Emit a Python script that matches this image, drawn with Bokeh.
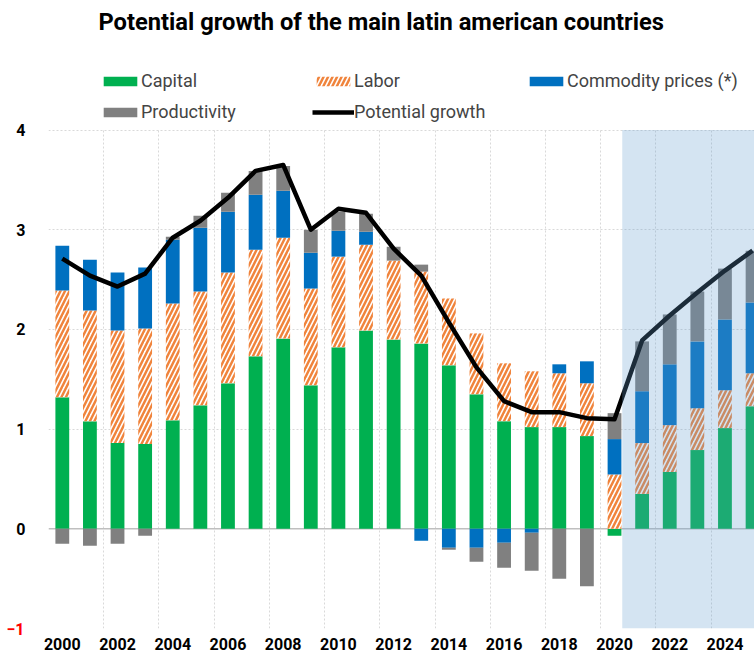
import numpy as np
from bokeh.plotting import figure
from bokeh.models import (ColumnDataSource, FixedTicker, Legend, LegendItem,
                          BoxAnnotation, Span, Range1d, LinearAxis)
from bokeh.embed import file_html
from bokeh.resources import INLINE

# ---------------- data ----------------
years = list(range(2000, 2026))
capital = [1.32, 1.08, 0.86, 0.85, 1.09, 1.24, 1.46, 1.73, 1.91, 1.44, 1.82, 1.99, 1.90,
           1.86, 1.64, 1.35, 1.08, 1.02, 1.02, 0.93, -0.07, 0.35, 0.57, 0.79, 1.01, 1.23]
labor = [1.07, 1.11, 1.13, 1.16, 1.17, 1.14, 1.11, 1.07, 1.01, 0.97, 0.91, 0.86, 0.79,
         0.72, 0.67, 0.61, 0.58, 0.56, 0.54, 0.53, 0.545, 0.51, 0.47, 0.42, 0.38, 0.33]
commodity = [0.45, 0.51, 0.58, 0.61, 0.64, 0.64, 0.61, 0.55, 0.47, 0.36, 0.26, 0.13, 0.0,
             -0.12, -0.19, -0.19, -0.14, -0.04, 0.09, 0.22, 0.355, 0.52, 0.61, 0.67, 0.71, 0.71]
productivity = [-0.15, -0.17, -0.15, -0.07, 0.03, 0.12, 0.19, 0.24, 0.25, 0.23, 0.19, 0.18, 0.14,
                0.07, -0.02, -0.14, -0.25, -0.38, -0.50, -0.575, 0.26, 0.50, 0.50, 0.50, 0.51, 0.52]
potential = [2.71, 2.54, 2.43, 2.56, 2.92, 3.09, 3.32, 3.59, 3.65, 3.00, 3.21, 3.17, 2.81,
             2.54, 2.07, 1.62, 1.28, 1.17, 1.17, 1.11, 1.10, 1.89, 2.14, 2.37, 2.59, 2.79]
series_names = ["Capital", "Labor", "Commodity prices (*)", "Productivity"]
line_name = "Potential growth"
x_ticks = [2000, 2002, 2004, 2006, 2008, 2010, 2012, 2014, 2016, 2018, 2020, 2022, 2024]
y_ticks = [0, 1, 2, 3, 4]
y_ticks_negative = [-1]
forecast_start = 2020.28
title_text = "Potential growth of the main latin american countries"

# ---------------- figure ----------------
FONT = "Roboto"
TOP_BORDER = 37
BOTTOM_BORDER = 31
FRAME_H = 659 - TOP_BORDER - BOTTOM_BORDER
Y0, Y1 = -1, 4
Y_TOP = Y0 + (Y1 - Y0) * FRAME_H / 501.0   # room above the plot for the legend
X0, X1 = 1999.5, 2025.07
p = figure(width=754, height=659, output_backend="svg", toolbar_location=None,
           x_range=Range1d(X0, X1), y_range=Range1d(Y0, Y_TOP),
           min_border_left=48, min_border_right=0, min_border_bottom=BOTTOM_BORDER,
           min_border_top=TOP_BORDER)
p.outline_line_color = None
p.background_fill_color = "white"

# stacked bars (positives up from 0, negatives down from 0)
pos_base = np.zeros(len(years))
neg_base = np.zeros(len(years))
styles = [
    dict(fill_color="#00B050"),
    dict(fill_color="white", hatch_pattern="/", hatch_color="#F0843C", hatch_weight=2.5, hatch_scale=9),
    dict(fill_color="#0070C0"),
    dict(fill_color="#808080"),
]
renderers = []
for vals, st in zip([capital, labor, commodity, productivity], styles):
    a = np.array(vals, dtype=float)
    bottom = np.where(a >= 0, pos_base, neg_base + a)
    top = np.where(a >= 0, pos_base + a, neg_base)
    pos_base = pos_base + np.where(a > 0, a, 0)
    neg_base = neg_base + np.where(a < 0, a, 0)
    src = ColumnDataSource(dict(x=years, top=top, bottom=bottom))
    r = p.vbar(x="x", top="top", bottom="bottom", width=0.5, source=src,
               line_color=None, **st)
    renderers.append(r)

line_r = p.line(years, potential, line_color="black", line_width=4.5, line_join="round")

# zero line
p.add_layout(Span(location=0, dimension="width", line_color="#bfbfbf", line_width=1.5, level="underlay"))

# forecast shading (drawn over everything)
p.add_layout(BoxAnnotation(left=forecast_start, top=Y1, bottom=Y0, fill_color="#639dd0",
                           fill_alpha=0.28, line_color=None, level="overlay"))

# axes
def style_axis(ax, color="black"):
    ax.axis_line_color = None
    ax.major_tick_line_color = None
    ax.minor_tick_line_color = None
    ax.major_tick_out = 0
    ax.major_tick_in = 0
    ax.minor_tick_out = 0
    ax.minor_tick_in = 0
    ax.major_label_text_font = FONT
    ax.major_label_text_font_style = "bold"
    ax.major_label_text_font_size = "16px"
    ax.major_label_text_color = color

p.xaxis.ticker = FixedTicker(ticks=x_ticks)
p.yaxis.ticker = FixedTicker(ticks=y_ticks)
style_axis(p.xaxis[0])
style_axis(p.yaxis[0])
p.xaxis.major_label_standoff = 9
p.yaxis.major_label_standoff = 23

# red label for the negative tick, on a second left axis
neg_axis = LinearAxis(ticker=FixedTicker(ticks=y_ticks_negative), major_label_standoff=-11)
style_axis(neg_axis, color="red")
p.add_layout(neg_axis, "left")

# grids
p.xgrid.ticker = FixedTicker(ticks=[y - 0.5 for y in range(2000, 2025, 2)])
p.xgrid.cross_bounds = (Y0, Y1)
p.ygrid.ticker = FixedTicker(ticks=[-1, 1, 2, 3, 4])
for g in (p.xgrid[0], p.ygrid[0]):
    g.grid_line_color = "#d9d9d9"
    g.grid_line_dash = "2 2"
    g.grid_line_width = 1

# legend
items = [LegendItem(label=n, renderers=[r]) for n, r in zip(series_names, renderers)]
items.insert(4, LegendItem(label=line_name, renderers=[line_r]))
legend = Legend(items=items, orientation="horizontal", ncols=3,
                glyph_width=42, glyph_height=12, label_standoff=0, label_width=161,
                spacing=10, padding=0, margin=0,
                location=(51, FRAME_H - (122 - TOP_BORDER)),
                label_text_font=FONT, label_text_font_size="18px", label_height=12,
                border_line_color=None, background_fill_alpha=0)
p.add_layout(legend, "center")

# title
p.title.text = title_text
p.title.text_font = FONT
p.title.text_font_size = "23.7px"
p.title.text_font_style = "bold"
p.title.text_color = "black"
p.title.align = "left"
p.title.offset = 50
p.title.standoff = 10

open("out.html", "w").write(file_html(p, INLINE))
